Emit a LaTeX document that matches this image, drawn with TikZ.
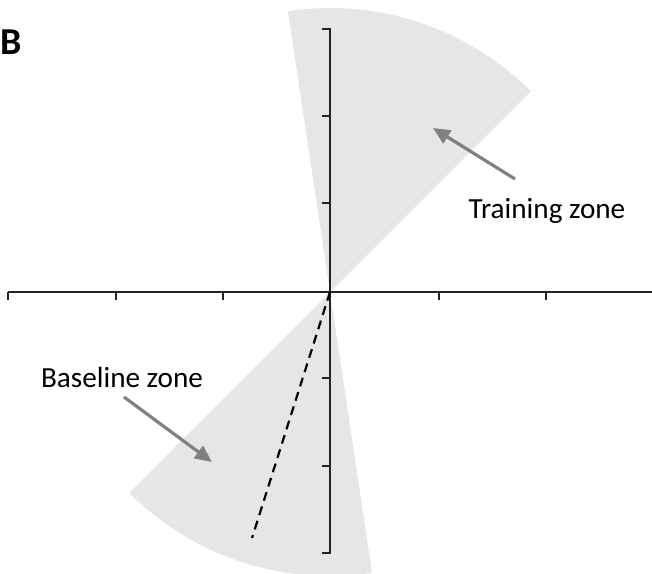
\documentclass[tikz,border=0pt]{standalone}
\usepackage{fontspec}
\setmainfont{Carlito}
\usetikzlibrary{arrows.meta}
\definecolor{zonegray}{RGB}{230,230,231}
\definecolor{arrowgray}{RGB}{128,128,128}
\definecolor{axisc}{RGB}{35,35,35}
\begin{document}
\begin{tikzpicture}[x=0.5pt,y=-0.5pt,
  zone/.style={fill=zonegray,draw=none},
  axisline/.style={draw=axisc,line width=1.1pt},
  pointer/.style={draw=arrowgray,line width=1.6pt,-{Triangle[length=8.5pt,width=7.5pt]}},
  lbl/.style={font=\fontsize{14.6}{17}\selectfont,inner sep=0pt,anchor=base}]
\useasboundingbox (0,0) rectangle (652,573);
\coordinate (O) at (330,292);
% zones
\fill[zone] (O) -- plot[domain=98.5:45,samples=50] ({330+284*cos(\x)},{292-284*sin(\x)}) -- cycle;
\fill[zone] (O) -- plot[domain=225:278.5,samples=50] ({330+284*cos(\x)},{292-284*sin(\x)}) -- cycle;
% horizontal axis
\coordinate (hl) at (8,292);
\coordinate (hr) at (652,292);
\draw[axisline] (hl) -- (hr);
\foreach \t in {8,116,223,438.7,546} \draw[axisline] (\t,292) -- (\t,300);
% vertical axis
\coordinate (vt) at (330,29);
\coordinate (vb) at (330,553);
\draw[axisline,line width=1.4pt] (322,29) -- (vt) -- (vb) -- (322,553);
\foreach \t in {116,203,378,466} \draw[axisline] (330,\t) -- (322,\t);
% dashed line
\coordinate (dend) at (252,538);
\draw[black,line width=1.1pt,dash pattern=on 4.5pt off 3pt] (O) -- (dend);
% labels
\node[lbl] (train) at (547,218) {Training zone};
\node[lbl] (base) at (122,387) {Baseline zone};
\node[font=\fontsize{19}{22}\selectfont\bfseries,inner sep=0pt,anchor=base west] (B) at (0,54) {B};
% pointers
\coordinate (ttail) at (515,179);
\coordinate (ttip) at (433,128);
\coordinate (btail) at (124,397);
\coordinate (btip) at (212,462);
\draw[pointer] (ttail) -- (ttip);
\draw[pointer] (btail) -- (btip);
\end{tikzpicture}
\end{document}
